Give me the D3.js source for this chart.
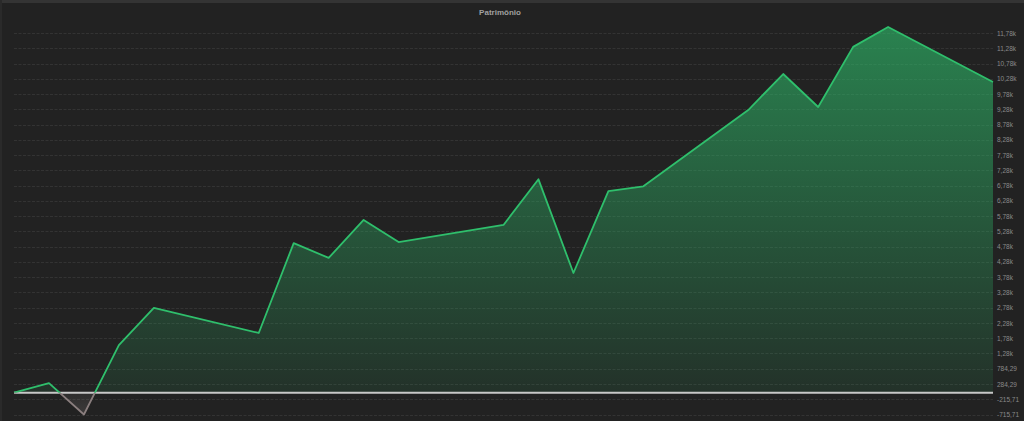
<!DOCTYPE html>
<html>
<head>
<meta charset="utf-8">
<script src="https://cdn.jsdelivr.net/npm/d3@7"></script>
<style>
  html, body { margin: 0; padding: 0; background: #222222; }
  svg { display: block; }
</style>
</head>
<body>
<svg id="chart" width="1024" height="421"></svg>
<script>
// ---- data ----
const dates = ["2024-01-01","2024-01-02","2024-01-03","2024-01-04","2024-01-05",
               "2024-01-08","2024-01-09","2024-01-10","2024-01-11","2024-01-12",
               "2024-01-15","2024-01-16","2024-01-17","2024-01-18","2024-01-19",
               "2024-01-22","2024-01-23","2024-01-24","2024-01-25","2024-01-26",
               "2024-01-29"];
const values = [0, 310, -715.71, 1560, 2775,
                1955, 4900, 4415, 5660, 4935,
                5495, 6990, 3920, 6600, 6760,
                9260, 10440, 9360, 11330, 11980,
                10180];
const tickValues = [-715.71, -215.71, 284.29, 784.29, 1284.29, 1784.29, 2284.29, 2784.29,
                    3284.29, 3784.29, 4284.29, 4784.29, 5284.29, 5784.29, 6284.29, 6784.29,
                    7284.29, 7784.29, 8284.29, 8784.29, 9284.29, 9784.29, 10284.29, 10784.29,
                    11284.29, 11784.29];
const tickLabels = ["-715,71", "-215,71", "284,29", "784,29", "1,28k", "1,78k", "2,28k", "2,78k",
                    "3,28k", "3,78k", "4,28k", "4,78k", "5,28k", "5,78k", "6,28k", "6,78k",
                    "7,28k", "7,78k", "8,28k", "8,78k", "9,28k", "9,78k", "10,28k", "10,78k",
                    "11,28k", "11,78k"];
const title = "Patrimônio";

// ---- layout ----
const W = 1024, H = 421;
const left = 14, right = 993;
const svg = d3.select("#chart");
const data = dates.map((d, i) => ({ date: new Date(d + "T00:00:00Z"), value: values[i] }));

const x = d3.scaleUtc().domain(d3.extent(data, d => d.date)).range([left, right]);
const y = d3.scaleLinear().domain([tickValues[0], tickValues[tickValues.length - 1]]).range([414.5, 33]);

// frame strips
svg.append("rect").attr("x", 0).attr("y", 0).attr("width", W).attr("height", H).attr("fill", "#222222");
svg.append("rect").attr("x", 0).attr("y", 0).attr("width", W).attr("height", 3).attr("fill", "#343434");
svg.append("rect").attr("x", 0).attr("y", 0).attr("width", 2).attr("height", H).attr("fill", "#2a2a2a");

// title
svg.append("text").attr("x", 500).attr("y", 15)
  .attr("text-anchor", "middle")
  .attr("font-family", "Liberation Sans, Arial, sans-serif")
  .attr("font-weight", "bold").attr("font-size", 8)
  .attr("fill", "#a0a0a0").text(title);

// grid
const grid = svg.append("g");
grid.selectAll("line").data(tickValues).join("line")
  .attr("x1", left).attr("x2", right)
  .attr("y1", d => Math.round(y(d)) + 0.5).attr("y2", d => Math.round(y(d)) + 0.5)
  .attr("stroke", "#333333").attr("stroke-width", 1).attr("stroke-dasharray", "3,1.5");

// right axis
const axis = d3.axisRight(y).tickValues(tickValues)
  .tickFormat((d, i) => tickLabels[i]).tickSize(0).tickPadding(0);
const ag = svg.append("g").attr("transform", `translate(${right + 4},0)`).call(axis);
ag.select(".domain").remove();
ag.selectAll("text").attr("fill", "#8a8a8a").attr("font-size", 6.5)
  .attr("font-family", "Liberation Sans, Arial, sans-serif");

// gradients
const defs = svg.append("defs");
const gPos = defs.append("linearGradient").attr("id", "gpos")
  .attr("gradientUnits", "userSpaceOnUse").attr("x1", 0).attr("x2", 0)
  .attr("y1", y(d3.max(values))).attr("y2", y(0));
gPos.append("stop").attr("offset", 0).attr("stop-color", "#2ebd6b").attr("stop-opacity", 0.62);
gPos.append("stop").attr("offset", 1).attr("stop-color", "#2ebd6b").attr("stop-opacity", 0.1);
const gNeg = defs.append("linearGradient").attr("id", "gneg")
  .attr("gradientUnits", "userSpaceOnUse").attr("x1", 0).attr("x2", 0)
  .attr("y1", y(0)).attr("y2", y(d3.min(values)));
gNeg.append("stop").attr("offset", 0).attr("stop-color", "#9a9090").attr("stop-opacity", 0.1);
gNeg.append("stop").attr("offset", 1).attr("stop-color", "#9a9090").attr("stop-opacity", 0.22);

defs.append("clipPath").attr("id", "cpos").append("rect")
  .attr("x", 0).attr("y", 0).attr("width", W).attr("height", y(0));
defs.append("clipPath").attr("id", "cneg").append("rect")
  .attr("x", 0).attr("y", y(0)).attr("width", W).attr("height", H - y(0));

const area = d3.area().x(d => x(d.date)).y0(y(0)).y1(d => y(d.value));
const line = d3.line().x(d => x(d.date)).y(d => y(d.value));

svg.append("path").datum(data).attr("d", area).attr("fill", "url(#gpos)").attr("clip-path", "url(#cpos)");
svg.append("path").datum(data).attr("d", area).attr("fill", "url(#gneg)").attr("clip-path", "url(#cneg)");

// baseline
svg.append("line").attr("x1", left).attr("x2", right).attr("y1", y(0)).attr("y2", y(0))
  .attr("stroke", "#c8c8c8").attr("stroke-width", 2);

svg.append("path").datum(data).attr("d", line).attr("fill", "none")
  .attr("stroke", "#2fbf6c").attr("stroke-width", 1.8).attr("stroke-linejoin", "round")
  .attr("clip-path", "url(#cpos)");
svg.append("path").datum(data).attr("d", line).attr("fill", "none")
  .attr("stroke", "#8a7e7e").attr("stroke-width", 1.8).attr("stroke-linejoin", "round")
  .attr("clip-path", "url(#cneg)");
</script>
</body>
</html>
